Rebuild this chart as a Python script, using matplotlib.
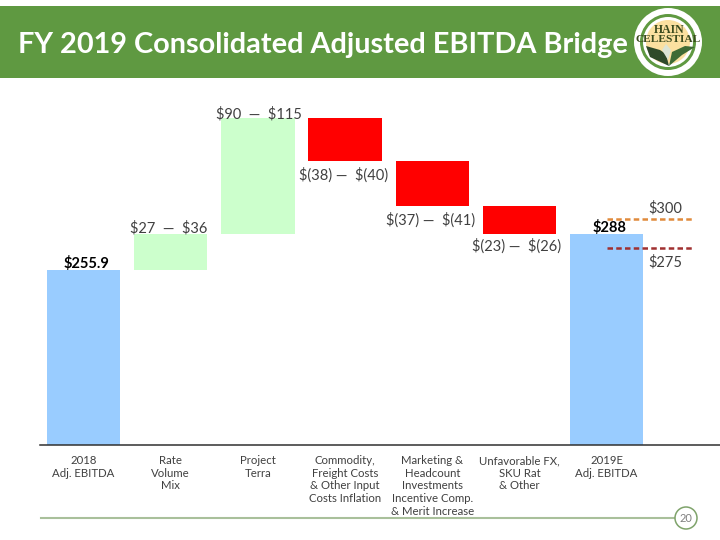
import matplotlib
matplotlib.use('Agg')
import matplotlib.pyplot as plt
from matplotlib.patches import Circle, Polygon, Rectangle

# datos (las alturas no siguen la escala de las etiquetas)
categorias = ['2018\nAdj. EBITDA', 'Rate\nVolume\nMix', 'Project\nTerra',
              'Commodity,\nFreight Costs\n& Other Input\nCosts Inflation',
              'Marketing &\nHeadcount\nInvestments\nIncentive Comp.\n& Merit Increase',
              'Unfavorable FX,\nSKU Rat\n& Other', '2019E\nAdj. EBITDA']
cambios = [255.9, 52.6, 170, -63, -66, -41, 308.5]
tipos = ['total', 'sube', 'sube', 'baja', 'baja', 'baja', 'total']
rangos = ['$255.9', '$27  \u2014  $36', '$90  \u2014  $115', '$(38) \u2014  $(40)',
          '$(37) \u2014  $(41)', '$(23) \u2014  $(26)', '$288']
objetivos = [330, 288]
objetivos_txt = ['$300', '$275']

colores = {'total': '#99CCFF', 'sube': '#CCFFCC', 'baja': '#FF0000'}
plt.rcParams['font.family'] = ['Lato', 'DejaVu Sans']
plt.rcParams['text.parse_math'] = False  # los $ son texto normal
TEXTO = '#404040'

fig = plt.figure(figsize=(7.2, 5.4), dpi=100)

# capa de fondo en pixeles: cabecera, logo y pie
bg = fig.add_axes([0, 0, 1, 1])
bg.set_xlim(0, 720)
bg.set_ylim(540, 0)
bg.axis('off')
bg.add_patch(Rectangle((0, 6), 720, 72, color='#5F9941', lw=0))
bg.text(18, 45, 'FY 2019 Consolidated Adjusted EBITDA Bridge', color='white',
        fontsize=20.8, fontweight='bold', va='center', ha='left')

# logo
bg.add_patch(Circle((668, 42), 34, color='white', lw=0))
bg.add_patch(Circle((668, 42), 28, color='#5F9941', lw=0))
bg.add_patch(Circle((668, 42), 25, color='white', lw=0))
bg.add_patch(Circle((668, 42), 22, color='#FBE0A0', lw=0))
bg.add_patch(Polygon([[669, 66], [650, 57], [646, 46], [660, 50], [666, 54]], color='#2F4A2A', lw=0))
bg.add_patch(Polygon([[669, 66], [672, 52], [685, 46], [695, 47], [682, 55]], color='#3F6B35', lw=0))
bg.add_patch(Polygon([[668, 60], [662, 50], [666, 44], [671, 50]], color='#DDE5D5', lw=0))
bg.text(669, 30, 'HAIN', color='#3A4A1E', fontsize=8.5, fontweight='bold',
        family='Liberation Serif', ha='center', va='center')
bg.text(668, 39, 'CELESTIAL', color='#3A4A1E', fontsize=8.2, fontweight='bold',
        family='Liberation Serif', ha='center', va='center')

# pie de pagina
bg.plot([41, 675], [518, 518], color='#A9C09B', lw=1.5)
bg.add_patch(Circle((686, 518), 11, fc='white', ec='#7FA36B', lw=1.1, zorder=3))
bg.text(686, 518.5, '20', color='#808080', fontsize=8, ha='center', va='center', zorder=4)

# grafico de cascada
ax = fig.add_axes([40 / 720, (540 - 445) / 540, 680 / 720, 345 / 540])
ax.patch.set_alpha(0)
ax.set_xlim(-0.499, 7.30)
ax.set_ylim(0, 345 / 0.684)

x = list(range(len(categorias)))
inicio = []
acumulado = 0
for c, t in zip(cambios, tipos):
    if t == 'total':
        inicio.append(0)
        acumulado = c
    else:
        inicio.append(acumulado)
        acumulado += c
colores_barras = [colores[t] for t in tipos]
ax.bar(x, cambios, bottom=inicio, width=0.84, color=colores_barras, linewidth=0)

# etiquetas de cada barra
topes = [max(b, b + c) for b, c in zip(inicio, cambios)]
bases = [min(b, b + c) for b, c in zip(inicio, cambios)]
for i, t in enumerate(tipos):
    if t == 'total':
        dx = 0.04 if i == 0 else 0.03
        ax.annotate(rangos[i], (i + dx, topes[i]), xytext=(0, -0.5), textcoords='offset points',
                    ha='center', va='bottom', fontsize=10.5, fontweight='bold', color='black')
    elif t == 'sube':
        dx = -0.02 if i == 1 else 0.01
        alto = -1 if i == 1 else -2.4
        ax.annotate(rangos[i], (i + dx, topes[i]), xytext=(0, alto), textcoords='offset points',
                    ha='center', va='bottom', fontsize=10.5, color=TEXTO)
    else:
        dx = [-0.02, -0.02, -0.03][i - 3]
        alto = [-4.5, -5, -3.5][i - 3]
        ax.annotate(rangos[i], (i + dx, bases[i]), xytext=(0, alto), textcoords='offset points',
                    ha='center', va='top', fontsize=10.5, color=TEXTO)

# rango objetivo 2019E
ax.plot([6, 7.0], [objetivos[0]] * 2, color='#E08A3C', lw=1.8, dashes=(2.2, 1.3))
ax.plot([6, 7.0], [objetivos[1]] * 2, color='#A03030', lw=1.8, dashes=(2.2, 1.3))
ax.annotate(objetivos_txt[0], (6.67, objetivos[0]), xytext=(0, 2.5), textcoords='offset points',
            ha='center', va='bottom', fontsize=10.5, color=TEXTO)
ax.annotate(objetivos_txt[1], (6.67, objetivos[1]), xytext=(0, -5), textcoords='offset points',
            ha='center', va='top', fontsize=10.5, color=TEXTO)

ax.set_xticks(x)
ax.set_xticklabels(categorias, fontsize=8.2, color=TEXTO, linespacing=1.17)
ax.tick_params(axis='x', length=0, pad=7.5)
ax.set_yticks([])
for lado in ['top', 'right', 'left']:
    ax.spines[lado].set_visible(False)
ax.spines['bottom'].set_color('#303030')
ax.spines['bottom'].set_linewidth(1.1)

fig.savefig('out.png', dpi=100)
